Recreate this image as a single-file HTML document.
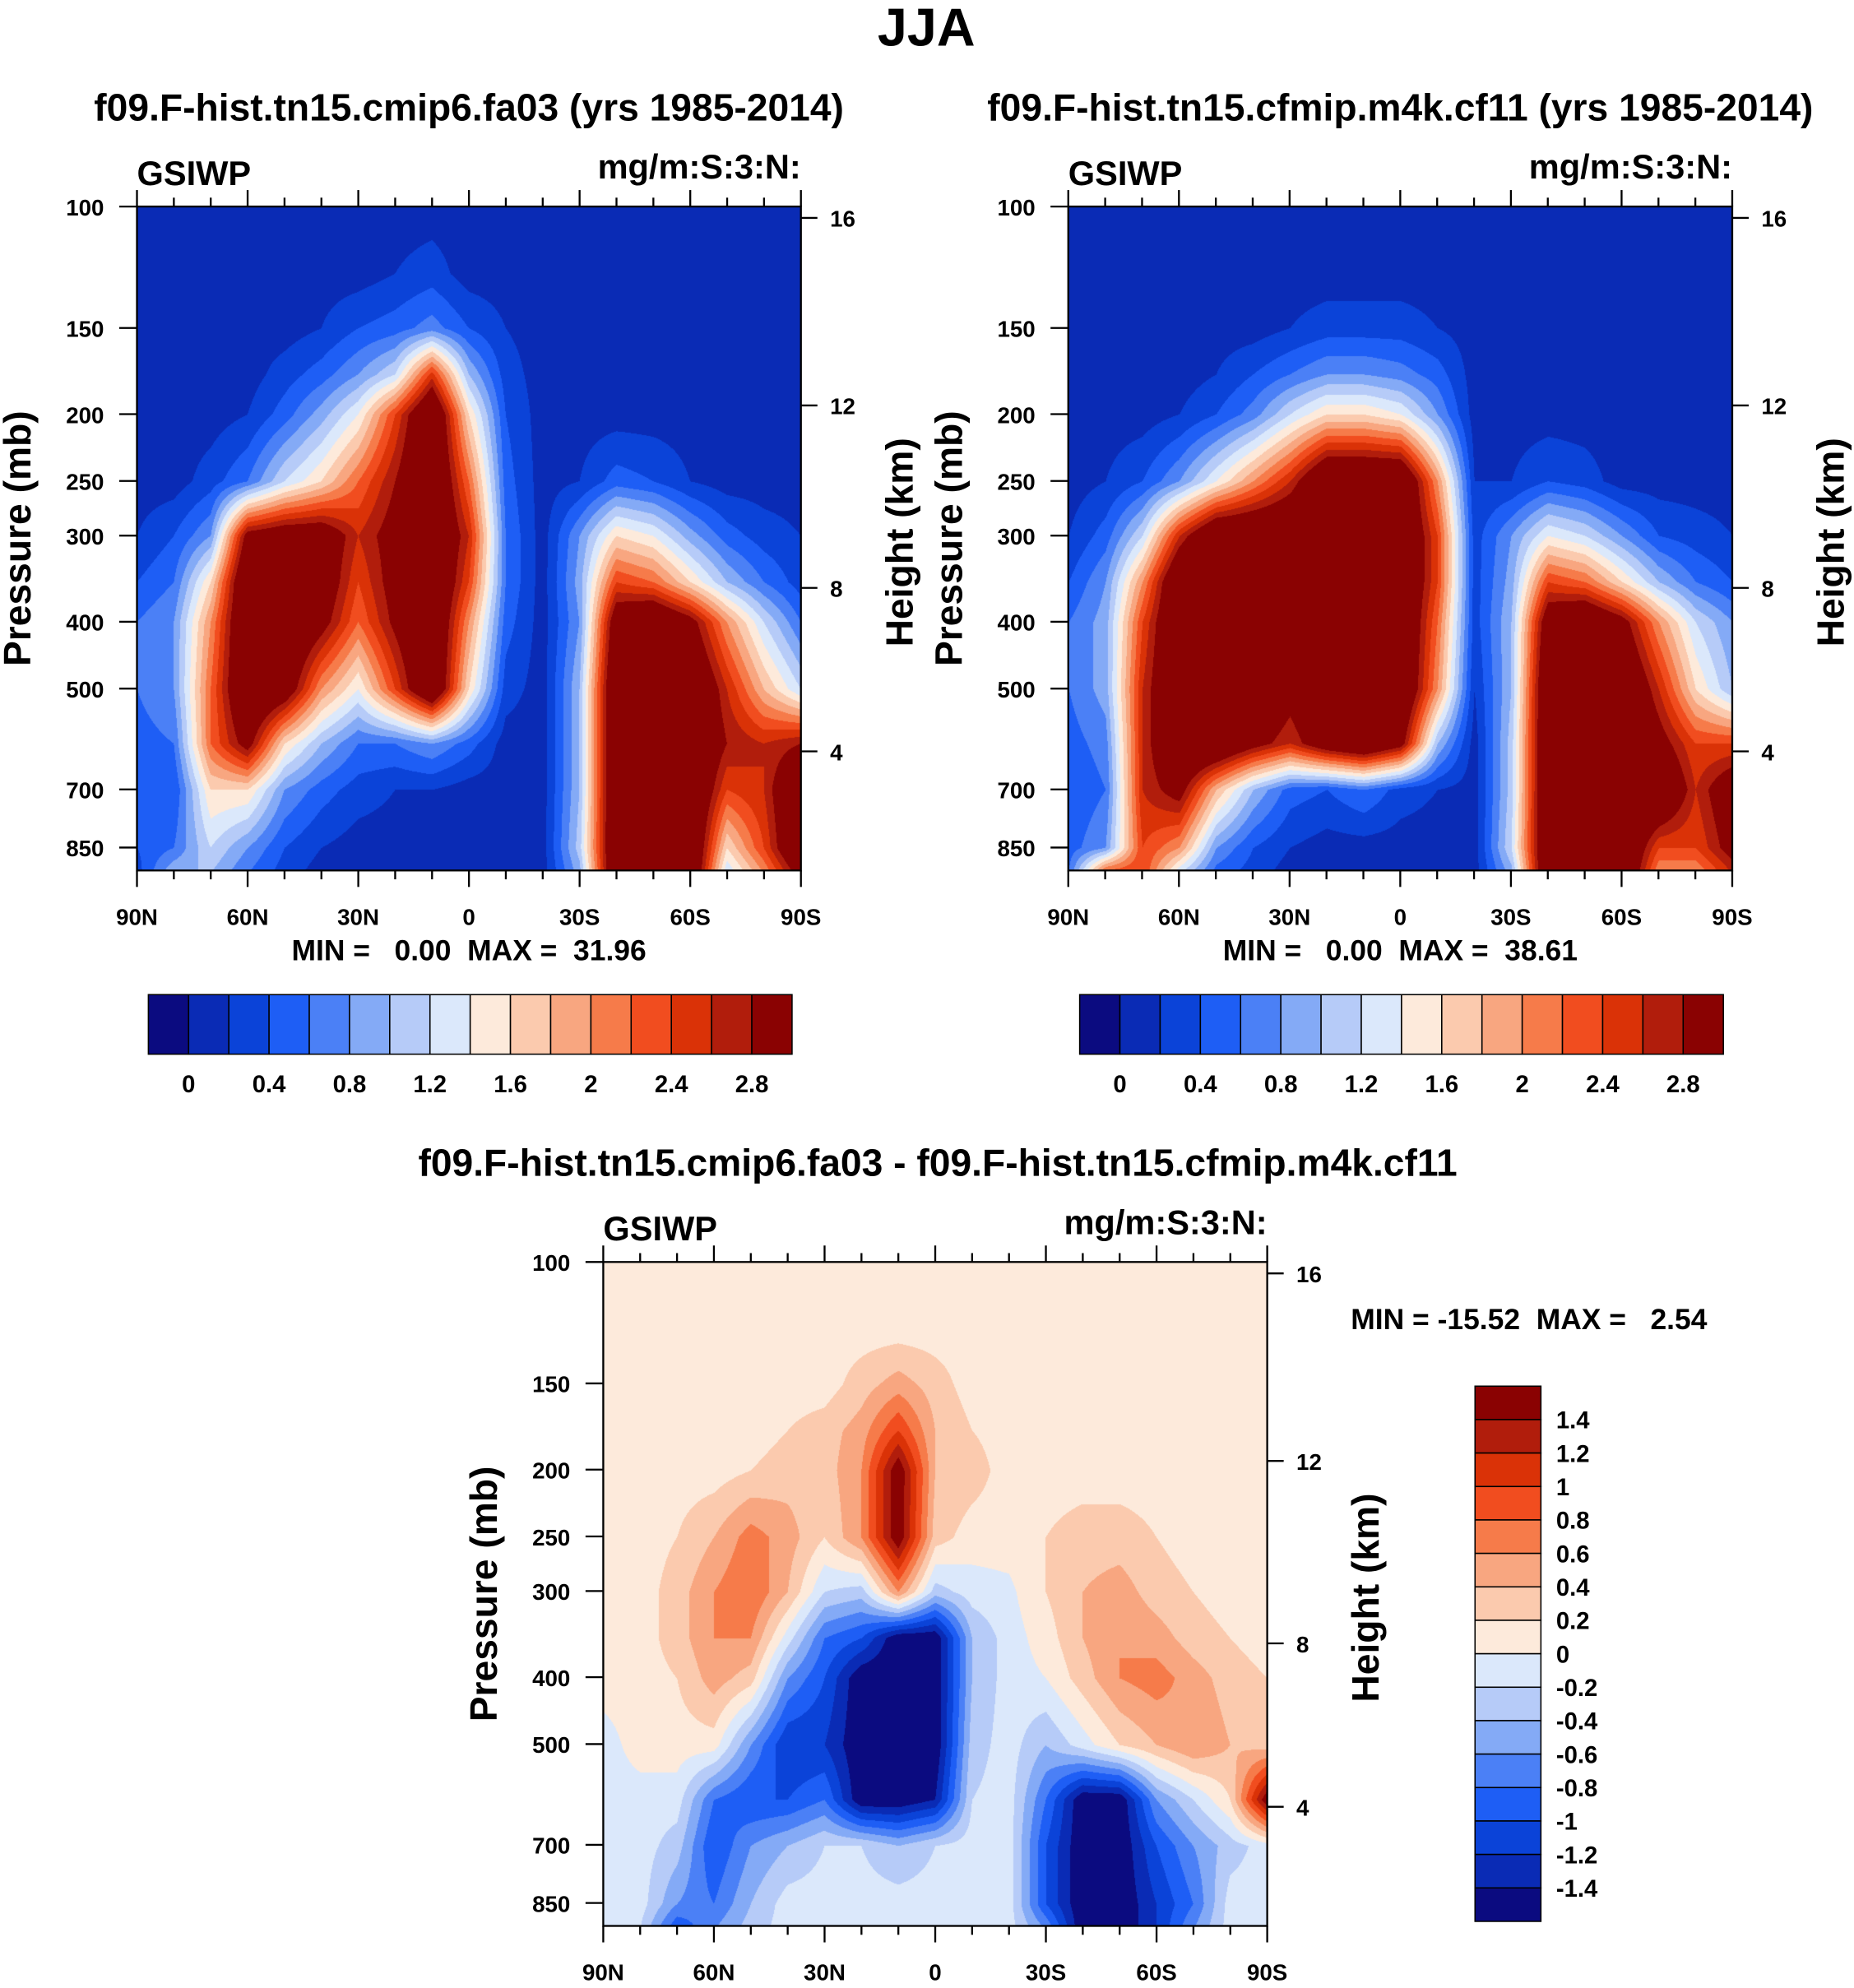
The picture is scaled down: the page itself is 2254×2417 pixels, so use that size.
<!DOCTYPE html>
<html><head><meta charset="utf-8">
<style>
html,body{margin:0;padding:0;background:#fff;}
#page{position:relative;width:2254px;height:2417px;overflow:hidden;background:#fff;}
svg{position:absolute;left:0;top:0;}
canvas{position:absolute;}
text{font-family:"Liberation Sans",sans-serif;font-weight:bold;fill:#000;white-space:pre;}
</style></head>
<body>
<div id="page">
<svg id="svg" width="2254" height="2417" viewBox="0 0 1463 1569"></svg>
</div>
<script>
// ---------- data ----------
const lats = [90,80,70,60,50,40,30,20,10,0,-10,-20,-30,-40,-50,-60,-70,-80,-90];
const levels = [100,125,150,175,200,250,300,350,400,500,600,700,850,925];
const fieldA = [
[.1,.1,.1,.1,.1,.1,.1,.1,.1,.1,.1,.1,.1,.1,.1,.1,.1,.1,.1],
[.1,.1,.1,.1,.1,.1,.1,.2,.3,.1,.1,.1,.1,.1,.1,.1,.1,.1,.1],
[.1,.1,.1,.1,.1,.2,.4,.5,.7,.4,.2,.1,.1,.1,.1,.1,.1,.1,.1],
[.1,.1,.1,.1,.3,.5,.8,1.2,2.5,1.0,.3,.1,.1,.1,.1,.1,.1,.1,.1],
[.1,.1,.1,.2,.5,.9,1.4,2.4,3.5,1.6,.4,.1,.1,.1,.1,.1,.1,.1,.1],
[.1,.1,.3,.6,1.2,1.6,2.2,2.8,3.5,2.2,.5,.1,.2,.5,.4,.2,.1,.1,.1],
[.2,.4,.8,3.0,3.2,3.2,2.6,3.0,3.5,2.6,.6,.1,.8,1.6,1.4,.9,.5,.3,.2],
[.4,.6,1.6,3.5,3.5,3.2,2.4,3.0,3.5,2.4,.6,.1,.9,2.4,2.2,1.6,1.0,.6,.3],
[.6,.8,2.0,3.5,3.5,3.0,2.2,2.9,3.5,2.0,.5,.1,.8,3.2,3.5,3.0,2.0,1.2,.6],
[.6,.8,2.2,3.5,3.2,2.0,1.4,2.4,3.5,1.6,.3,.1,1.0,3.5,3.5,3.5,2.6,1.8,1.2],
[.5,.6,2.2,3.0,1.6,1.0,.6,.6,.8,.5,.1,.1,1.0,3.5,3.5,3.5,2.8,2.6,2.8],
[.4,.4,1.6,1.6,.8,.5,.3,.2,.2,.1,.1,.1,1.0,3.5,3.5,3.5,2.4,2.6,3.5],
[.4,.6,1.2,.8,.4,.2,.1,.1,.1,.1,.1,.1,1.1,3.5,3.5,3.5,1.6,2.4,3.5],
[.3,1.0,1.0,.6,.3,.1,.1,.1,.1,.1,.1,.1,.9,3.5,3.5,3.5,1.2,2.0,3.0]];
const fieldB = [
[.1,.1,.1,.1,.1,.1,.1,.1,.1,.1,.1,.1,.1,.1,.1,.1,.1,.1,.1],
[.1,.1,.1,.1,.1,.1,.1,.1,.1,.1,.1,.1,.1,.1,.1,.1,.1,.1,.1],
[.1,.1,.1,.1,.1,.1,.2,.3,.3,.3,.2,.1,.1,.1,.1,.1,.1,.1,.1],
[.1,.1,.1,.1,.2,.4,.6,.8,.8,.7,.5,.1,.1,.1,.1,.1,.1,.1,.1],
[.1,.1,.1,.2,.4,.7,1.2,1.6,1.6,1.4,.8,.1,.1,.1,.1,.1,.1,.1,.1],
[.1,.2,.4,.8,1.4,2.0,2.6,3.5,3.5,3.5,2.0,.2,.2,.4,.3,.1,.1,.1,.1],
[.2,.5,1.2,2.6,3.5,3.5,3.5,3.5,3.5,3.5,2.4,.3,.8,1.4,1.2,.8,.4,.3,.2],
[.4,.8,2.0,3.5,3.5,3.5,3.5,3.5,3.5,3.5,2.4,.3,.9,2.4,2.2,1.6,1.0,.6,.4],
[.6,.9,2.4,3.5,3.5,3.5,3.5,3.5,3.5,3.5,2.2,.3,1.0,3.2,3.5,3.0,2.0,1.2,.8],
[.6,.9,2.6,3.5,3.5,3.5,3.0,3.5,3.5,3.5,2.0,.2,1.0,3.5,3.5,3.5,2.6,1.6,1.0],
[.5,.7,2.6,3.5,3.5,3.0,2.6,3.2,3.5,3.0,1.0,.1,1.1,3.5,3.5,3.5,3.0,2.4,2.4],
[.4,.6,2.6,3.0,1.8,1.0,.5,.4,.6,.3,.2,.1,1.1,3.5,3.5,3.5,3.5,2.6,3.2],
[.5,.8,2.4,2.0,.8,.4,.2,.1,.1,.1,.1,.1,1.2,3.5,3.5,3.5,2.4,2.4,3.0],
[.6,2.4,2.4,1.2,.5,.3,.1,.1,.1,.1,.1,.1,.9,3.5,3.5,3.5,2.0,2.0,2.6]];
const fieldD = [
[.1,.1,.1,.1,.1,.1,.1,.1,.1,.1,.1,.1,.1,.1,.1,.1,.1,.1,.1],
[.1,.1,.1,.1,.1,.1,.1,.1,.1,.1,.1,.1,.1,.1,.1,.1,.1,.1,.1],
[.1,.1,.1,.1,.1,.1,.1,.3,.5,.3,.1,.1,.1,.1,.1,.1,.1,.1,.1],
[.1,.1,.1,.1,.1,.2,.3,.5,1.0,.4,.2,.1,.1,.1,.1,.1,.1,.1,.1],
[.1,.1,.1,.1,.2,.3,.3,.6,1.6,.4,.3,.1,.1,.1,.1,.1,.1,.1,.1],
[.1,.1,.2,.4,.7,.5,.2,.6,1.6,.3,.1,.1,.2,.3,.3,.2,.1,.1,.1],
[.1,.1,.3,.6,.8,.4,-.2,-.3,.6,-.3,-.1,-.05,.2,.4,.5,.3,.2,.1,.1],
[.1,.1,.3,.6,.6,-.1,-.8,-1.0,-1.6,-1.6,-.4,-.1,.1,.4,.6,.5,.3,.2,.1],
[.1,.1,.2,.5,.3,-.6,-1.0,-1.6,-1.6,-1.6,-.4,-.1,0,.3,.6,.7,.5,.3,.2],
[-.1,.1,.1,.1,-.6,-1.2,-1.2,-1.6,-1.6,-1.6,-.3,-.1,-.4,-.1,.2,.4,.6,.4,.3],
[-.1,-.1,-.1,-.8,-1.0,-1.0,-.8,-1.6,-1.6,-1.4,-.2,-.1,-.8,-1.6,-1.6,-.6,-.2,.2,1.6],
[-.1,-.1,-.3,-1.0,-.6,-.4,-.2,-.2,-.4,-.2,-.1,-.1,-1.0,-1.6,-1.6,-1.0,-.6,-.3,-.1],
[-.1,-.1,-.6,-.8,-.4,-.1,-.1,-.1,-.1,-.1,-.1,-.1,-1.0,-1.6,-1.6,-1.2,-.8,-.1,-.1],
[-.1,-.2,-1.0,-.6,-.3,-.1,-.1,-.1,-.1,-.1,-.1,-.1,-.6,-1.6,-1.6,-1.2,-.6,-.1,-.1]];
const pTicks = [100,150,200,250,300,400,500,700,850];
const kmTicks = [4,8,12,16];
const latTicks = [90,60,30,0,-30,-60,-90];
const latLabels = ["90N","60N","30N","0","30S","60S","90S"];
const cbLabelsA = ["0","0.4","0.8","1.2","1.6","2","2.4","2.8"];
const cbLabelsD = ["1.4","1.2","1","0.8","0.6","0.4","0.2","0","-0.2","-0.4","-0.6","-0.8","-1","-1.2","-1.4"];
const palette = ["#0b0b80","#0a2bb5","#0b43d8","#1e5ef5","#4b80f6","#84aaf6","#b6cbf8","#dbe8fb",
"#fdeadb","#fbcaae","#f8a680","#f67b4a","#f14d1f","#da3207","#b11d0c","#8a0202"];

// ---------- helpers ----------
const S = 2254/1463;
const svg = document.getElementById('svg');
const NS = "http://www.w3.org/2000/svg";
function el(tag, attrs, parent){const e=document.createElementNS(NS,tag);for(const k in attrs)e.setAttribute(k,attrs[k]);(parent||svg).appendChild(e);return e;}
function txt(x,y,s,size,anchor,name,extra){const t=el('text',Object.assign({x:x,y:y,'font-size':size,'text-anchor':anchor||'start'},extra||{}));t.textContent=s;


return t;}
function hexRGB(h){return [parseInt(h.substr(1,2),16),parseInt(h.substr(3,2),16),parseInt(h.substr(5,2),16)];}
const palRGB = palette.map(hexRGB);
function idxA(v){return v<0?0:Math.min(15,Math.floor(v/0.2+1e-9)+1);}
function idxD(v){return v<-1.4?0:Math.min(15,Math.floor((v+1.4)/0.2+1e-9)+1);}
// height axis (km) -> pixel offset from plot top; piecewise scale calibrated to the reference axis
function kmOffset(km){
  const refKm=[4,8,12,16], refOff=[430,301,157,9];
  let i=0; while(i<refKm.length-2 && km>refKm[i+1]) i++;
  const f=(km-refKm[i])/(refKm[i+1]-refKm[i]);
  return refOff[i]+(refOff[i+1]-refOff[i])*f;
}

function makePanel(px,py,field,idxFn,name,title,minmax,minmaxPos){
  const W=524,H=524;
  const pTop=100, k=236.4;
  const yOf = p => py + Math.log(p/pTop)*k;
  const xOf = lat => px + (90-lat)/180*W;
  const cv=document.createElement('canvas');
  const cw=Math.round(W*S), ch=Math.round(H*S);
  cv.width=cw; cv.height=ch;
  cv.style.left=(px*S)+'px'; cv.style.top=(py*S)+'px';
  cv.style.width=cw+'px'; cv.style.height=ch+'px';
  
  
  document.getElementById('page').insertBefore(cv, svg);
  const ctx=cv.getContext('2d'); const img=ctx.createImageData(cw,ch);
  const lnL = levels.map(p=>Math.log(p));
  for(let j=0;j<ch;j++){
    const p = pTop*Math.exp((j/S)/k); const lp=Math.log(Math.min(p,levels[levels.length-1]));
    let r=0; while(r<levels.length-2 && lnL[r+1]<lp) r++;
    const fy=Math.max(0,Math.min(1,(lp-lnL[r])/(lnL[r+1]-lnL[r])));
    for(let i=0;i<cw;i++){
      const lat = 90 - (i/cw)*180;
      let c=Math.min(lats.length-2,Math.floor((90-lat)/10)); const fx=((90-lat)-c*10)/10;
      const v = (field[r][c]*(1-fx)+field[r][c+1]*fx)*(1-fy)+(field[r+1][c]*(1-fx)+field[r+1][c+1]*fx)*fy;
      const col=palRGB[idxFn(v)]; const o=(j*cw+i)*4;
      img.data[o]=col[0];img.data[o+1]=col[1];img.data[o+2]=col[2];img.data[o+3]=255;
    }
  }
  ctx.putImageData(img,0,0);
  const g=el('g',{});
  
  
  const fr=el('rect',{x:px,y:py,width:W,height:H,fill:'none',stroke:'#000','stroke-width':1.5},g);
  
  
  for(let lat=90;lat>=-90;lat-=10){
    const x=xOf(lat), major=(lat%30===0), L=major?13:7;
    el('line',{x1:x,y1:py,x2:x,y2:py-L,stroke:'#000','stroke-width':1.5},g);
    el('line',{x1:x,y1:py+H,x2:x,y2:py+H+L,stroke:'#000','stroke-width':1.5},g);
  }
  latTicks.forEach((lat,i)=>{txt(xOf(lat),py+H+43,latLabels[i],18,'middle',name+'-x-label');});
  pTicks.forEach(p=>{const y=yOf(p);el('line',{x1:px,y1:y,x2:px-14,y2:y,stroke:'#000','stroke-width':1.5},g);
    txt(px-26,y+7,String(p),18,'end',name+'-y-label');});
  kmTicks.forEach(km=>{const y=py+kmOffset(km);el('line',{x1:px+W,y1:y,x2:px+W+13,y2:y,stroke:'#000','stroke-width':1.5},g);
    txt(px+W+23,y+7,String(km),18,'start',name+'-height-label');});
  txt(px-84,py+262,'Pressure (mb)',30,'middle',name+'-y-axis-title',{transform:`rotate(-90 ${px-84} ${py+262})`});
  txt(px+W+88,py+265,'Height (km)',30,'middle',name+'-height-axis-title',{transform:`rotate(-90 ${px+W+88} ${py+265})`});
  txt(px,py-17,'GSIWP',27,'start',name+'-variable');
  txt(px+W,py-22,'mg/m:S:3:N:',27,'end',name+'-units');
  if(title) txt(px+W/2,py-68,title,30,'middle',name+'-title');
  txt(minmaxPos[0],minmaxPos[1],minmax,23,minmaxPos[2],name+'-minmax');
}

txt(731,36,'JJA',42,'middle','main-title');
makePanel(108,163,fieldA,idxA,'panel-cmip6','f09.F-hist.tn15.cmip6.fa03 (yrs 1985-2014)','MIN =   0.00  MAX =  31.96',[370,758,'middle']);
makePanel(843,163,fieldB,idxA,'panel-m4k','f09.F-hist.tn15.cfmip.m4k.cf11 (yrs 1985-2014)','MIN =   0.00  MAX =  38.61',[1105,758,'middle']);
makePanel(476,996,fieldD,idxD,'panel-diff',null,'MIN = -15.52  MAX =   2.54',[1066,1049,'start']);
txt(740,928,'f09.F-hist.tn15.cmip6.fa03 - f09.F-hist.tn15.cfmip.m4k.cf11',30,'middle','diff-title');

function hbar(x0,y0,name){
  const bw=31.75,bh=47;
  for(let i=0;i<16;i++){const r=el('rect',{x:x0+i*bw,y:y0,width:bw,height:bh,fill:palette[i],stroke:'#000','stroke-width':1});
    
    }
  cbLabelsA.forEach((s,i)=>{txt(x0+bw*(1+2*i),y0+77,s,19,'middle',name+'-label');});
}
hbar(117,785,'colorbar-cmip6');
hbar(852,785,'colorbar-m4k');
(function(){const x0=1164,y0=1094,bw=52,bh=26.4;
  for(let i=0;i<16;i++){const r=el('rect',{x:x0,y:y0+i*bh,width:bw,height:bh,fill:palette[15-i],stroke:'#000','stroke-width':1});
    
    }
  cbLabelsD.forEach((s,i)=>{txt(x0+bw+12,y0+bh*(i+1)+7,s,19,'start','colorbar-diff-label');});
})();
</script>
</body></html>
